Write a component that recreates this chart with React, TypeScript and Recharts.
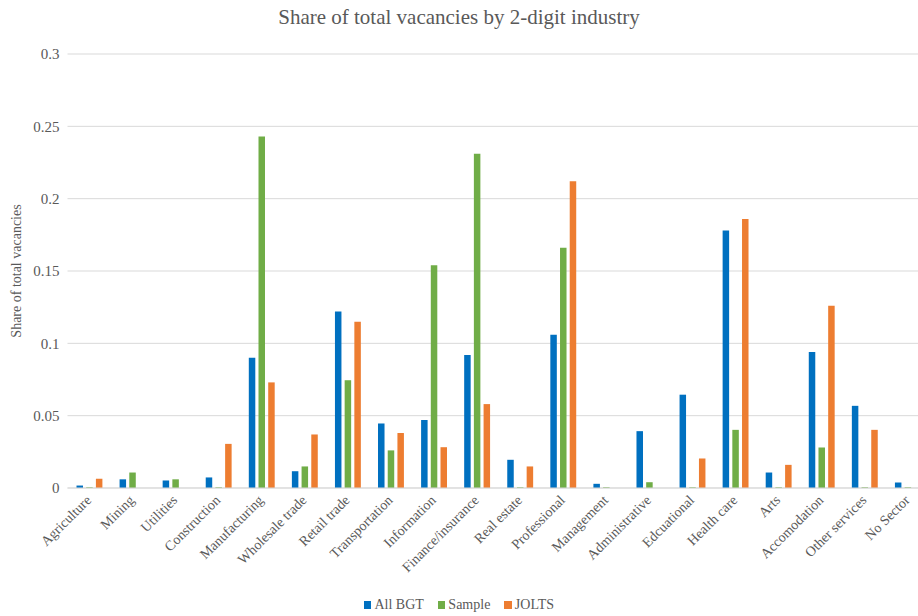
import { BarChart, Bar, XAxis, YAxis, CartesianGrid } from "recharts";

const industries = [
  "Agriculture", "Mining", "Utilities", "Construction", "Manufacturing", "Wholesale trade",
  "Retail trade", "Transportation", "Information", "Finance/insurance", "Real estate",
  "Professional", "Management", "Administrative", "Edcuational", "Health care", "Arts",
  "Accomodation", "Other services", "No Sector",
];
const allBgt = [0.0017, 0.006, 0.0052, 0.0073, 0.09, 0.0116, 0.122, 0.0446, 0.047, 0.092, 0.0195, 0.106, 0.0029, 0.0393, 0.0645, 0.178, 0.0107, 0.094, 0.0568, 0.0038];
const sample = [0.0005, 0.0107, 0.006, 0.0005, 0.243, 0.0149, 0.0745, 0.026, 0.154, 0.231, 0.0005, 0.166, 0.0005, 0.004, 0.0005, 0.0402, 0.0005, 0.028, 0.0005, 0.0005];
const jolts = [0.0064, 0, 0, 0.0305, 0.073, 0.037, 0.115, 0.038, 0.0282, 0.058, 0.0149, 0.212, 0, 0, 0.0204, 0.186, 0.016, 0.126, 0.0402, 0];
const yTicks = [0, 0.05, 0.1, 0.15, 0.2, 0.25, 0.3];

const rows = industries.map((name, i) => ({ name, bgt: allBgt[i], sample: sample[i], jolts: jolts[i] }));

const font = "Liberation Serif";
const textColor = "#595959";

const series = [
  { key: "bgt", label: "All BGT", color: "#0070c0" },
  { key: "sample", label: "Sample", color: "#70ad47" },
  { key: "jolts", label: "JOLTS", color: "#ed7d31" },
];

function XTick({ x, y, payload }: any) {
  const tx = x + 3;
  const ty = y + 5;
  return (
    <text x={tx} y={ty} textAnchor="end" transform={`rotate(-45, ${tx}, ${ty})`}
      fontFamily={font} fontSize={14} fill={textColor}>
      {payload.value}
    </text>
  );
}

export default function App() {
  return (
    <div style={{ position: "absolute", left: 0, top: 0, width: 918, height: 616, overflow: "hidden", background: "#fff", fontFamily: font }}>
      <div style={{ position: "absolute", top: 5, left: 0, width: 918, textAlign: "center", fontSize: 21, color: textColor }}>
        Share of total vacancies by 2-digit industry
      </div>
      {/* plot area runs past the right edge, as the source image is cropped */}
      <BarChart width={930} height={616} data={rows} barSize={6.5} barGap={3.2}
        margin={{ top: 54, right: 1, left: 0, bottom: 28 }}>
        <CartesianGrid vertical={false} stroke="#d9d9d9" />
        <XAxis dataKey="name" interval={0} tick={<XTick />} tickLine={false}
          axisLine={{ stroke: "#d9d9d9" }} height={100} />
        <YAxis domain={[0, 0.3]} ticks={yTicks} width={67.5} tickLine={false} axisLine={false}
          tick={{ fontFamily: font, fontSize: 15, fill: textColor }}
          label={{ value: "Share of total vacancies", angle: -90, position: "insideLeft", offset: 16,
            style: { fontFamily: font, fontSize: 14, fill: textColor, textAnchor: "middle" } }} />
        {series.map((s) => (
          <Bar key={s.key} dataKey={s.key} fill={s.color} isAnimationActive={false} />
        ))}
      </BarChart>
      <div style={{ position: "absolute", top: 597, left: 0, width: 918, display: "flex", justifyContent: "center", gap: 14, fontSize: 14, color: textColor }}>
        {series.map((s) => (
          <span key={s.key} style={{ display: "flex", alignItems: "center" }}>
            <span style={{ width: 7.5, height: 7.5, background: s.color, marginRight: 3, display: "inline-block" }} />
            {s.label}
          </span>
        ))}
      </div>
    </div>
  );
}
